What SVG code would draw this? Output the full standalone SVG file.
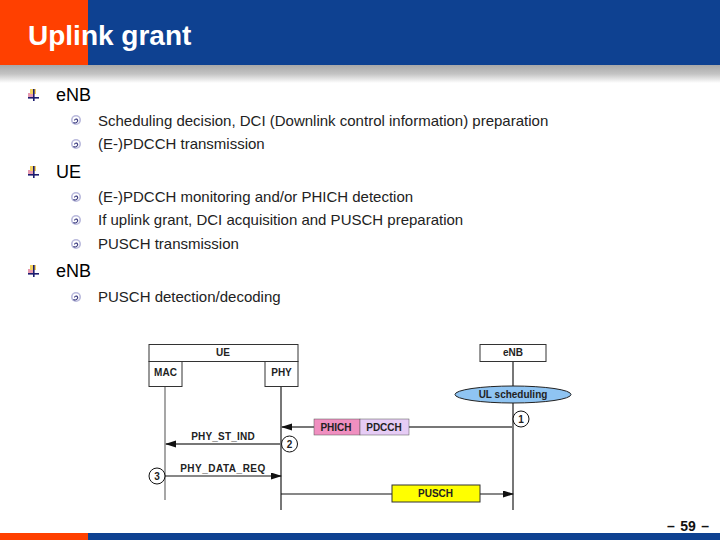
<svg xmlns="http://www.w3.org/2000/svg" width="720" height="540" viewBox="0 0 720 540">
<style>
text{font-family:"Liberation Sans",Arial,sans-serif}
.h{font-size:18px;fill:#000}
.s{font-size:15px;fill:#222}
.d{font-size:10px;font-weight:bold;fill:#222;text-anchor:middle}
.b{fill:#fff;stroke:#333;stroke-width:1}
.g{stroke:#777;stroke-width:2;fill:none}
.k{stroke:#111;stroke-width:1.2;fill:none}
.c{fill:#fff;stroke:#111;stroke-width:1}
</style>
<defs>
<linearGradient id="sh" x1="0" y1="0" x2="0" y2="1"><stop offset="0" stop-color="#a8a8a8"/><stop offset=".5" stop-color="#c4c4c4"/><stop offset="1" stop-color="#fff"/></linearGradient>
<marker id="a" markerWidth="11" markerHeight="8" refX="10" refY="3.5" orient="auto" markerUnits="userSpaceOnUse"><path d="M0 0L11 3.5L0 7Z" fill="#111"/></marker>
<g id="bl"><rect x="-5" y="-2" width="6" height="4" fill="#e79ab0"/><rect x="-3" y="-6" width="6" height="5" fill="#f2d060"/><rect x="-5" y="2" width="11" height="1.600" fill="#1c1c70"/><rect x="0" y="-6" width="1.600" height="12" fill="#1c1c70"/></g>
<g id="sb"><circle r="5" fill="#b9b9dc"/><circle r="3.400" fill="#fff"/><path d="M-1.500 0.500A1.600 1.600 0 1 1 1.600 1.200A3.200 3.200 0 0 1 -2.600 2.600" fill="none" stroke="#33337a" stroke-width="1.100"/></g>
</defs>
<rect width="720" height="540" fill="#fff"/>
<g id="header">
<rect x="0" y="65" width="720" height="18" fill="url(#sh)"/>
<rect x="0" y="0" width="720" height="65" fill="#0e4191"/>
<rect x="0" y="0" width="88" height="65" fill="#ff4000"/>
<text x="28" y="45" font-size="28" font-weight="bold" fill="#fff">Uplink grant</text>
</g>
<g id="footer">
<rect x="0" y="533" width="720" height="7" fill="#0e4191"/>
<rect x="0" y="533" width="88" height="7" fill="#ff4000"/>
<text x="667" y="531" font-size="14" font-weight="bold" fill="#111" word-spacing="1.500">– 59 –</text>
</g>
<g id="bullets">
<use href="#bl" x="33" y="95"/><text class="h" x="56" y="101">eNB</text>
<use href="#sb" x="76" y="120"/><text class="s" x="98" y="126">Scheduling decision, DCI (Downlink control information) preparation</text>
<use href="#sb" x="76" y="144"/><text class="s" x="98" y="149">(E-)PDCCH transmission</text>
<use href="#bl" x="33" y="172"/><text class="h" x="56" y="178">UE</text>
<use href="#sb" x="76" y="197"/><text class="s" x="98" y="202">(E-)PDCCH monitoring and/or PHICH detection</text>
<use href="#sb" x="76" y="220"/><text class="s" x="98" y="225">If uplink grant, DCI acquisition and PUSCH preparation</text>
<use href="#sb" x="76" y="244"/><text class="s" x="98" y="249">PUSCH transmission</text>
<use href="#bl" x="33" y="271"/><text class="h" x="56" y="277">eNB</text>
<use href="#sb" x="76" y="297"/><text class="s" x="98" y="302">PUSCH detection/decoding</text>
</g>
<g id="connectors">
<path class="g" d="M281 386V510M513 361V510"/>
<path d="M165 386V500" fill="none" stroke="#777" stroke-width="1.300"/>
<path class="g" d="M513 427H409"/>
<path class="g" d="M314 427H282" marker-end="url(#a)"/>
<path class="g" d="M281 444H166" marker-end="url(#a)"/>
<path class="k" d="M165 476H281" marker-end="url(#a)"/>
<path class="k" d="M281 494H513" marker-end="url(#a)"/>
<text class="d" x="223" y="440" letter-spacing=".2">PHY_ST_IND</text>
<text class="d" x="223" y="472" letter-spacing=".5">PHY_DATA_REQ</text>
</g>
<g id="ue"><rect class="b" x="149" y="344.500" width="149" height="17"/><text class="d" x="223" y="356">UE</text></g>
<g id="mac"><rect class="b" x="149" y="361.500" width="33" height="25"/><text class="d" x="165.500" y="376" font-size="9">MAC</text></g>
<g id="phy"><rect class="b" x="265" y="361.500" width="33" height="25"/><text class="d" x="281.500" y="376">PHY</text></g>
<g id="enb"><rect class="b" x="480" y="344.500" width="66" height="17"/><text class="d" x="513" y="356">eNB</text></g>
<g id="ul-scheduling"><ellipse cx="513" cy="394.500" rx="58" ry="8.500" fill="#8fc4f2" stroke="#222"/><text class="d" x="513" y="398">UL scheduling</text></g>
<g id="phich"><rect x="314" y="419" width="46" height="16" fill="#f08fc0" stroke="#555" stroke-width=".5"/><text class="d" x="336" y="431">PHICH</text></g>
<g id="pdcch"><rect x="360" y="419" width="49" height="16" fill="#e6ccf5" stroke="#555" stroke-width=".5"/><text class="d" x="384" y="431">PDCCH</text></g>
<g id="pusch"><rect x="392" y="485" width="88" height="17" fill="#ffff00" stroke="#333"/><text class="d" x="435.500" y="497">PUSCH</text></g>
<g id="n1"><circle class="c" cx="521" cy="419" r="8"/><text class="d" x="521" y="422.500">1</text></g>
<g id="n2"><circle class="c" cx="289.500" cy="444" r="8"/><text class="d" x="289.500" y="447.500">2</text></g>
<g id="n3"><circle class="c" cx="157" cy="476" r="8"/><text class="d" x="157" y="479.500">3</text></g>
</svg>
